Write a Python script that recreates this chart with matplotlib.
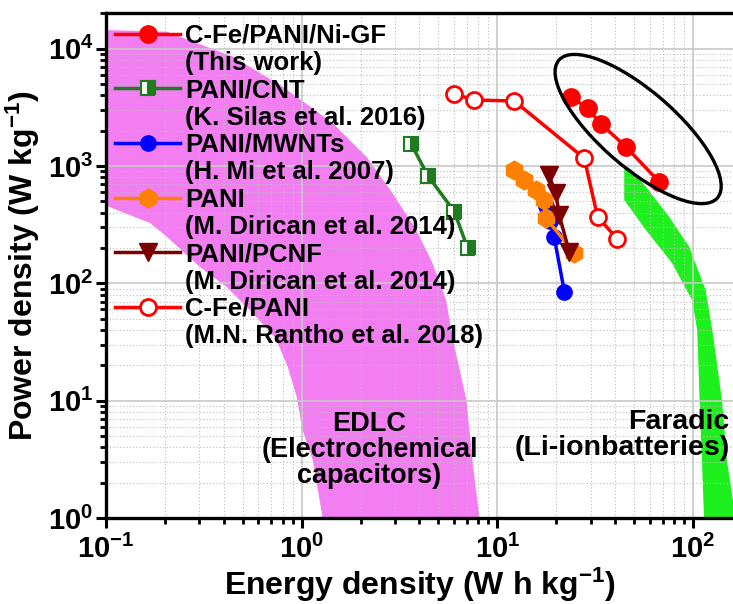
import matplotlib
matplotlib.use("Agg")
import matplotlib.pyplot as plt
from matplotlib.lines import Line2D
from matplotlib.patches import Ellipse
from matplotlib.transforms import ScaledTranslation
from matplotlib.ticker import LogLocator, FuncFormatter, NullFormatter
import numpy as np

plt.rcParams['font.family'] = ['Liberation Sans', 'DejaVu Sans']
plt.rcParams['font.weight'] = 'bold'
plt.rcParams['mathtext.fontset'] = 'custom'
plt.rcParams['mathtext.rm'] = 'Liberation Sans:bold'
plt.rcParams['mathtext.bf'] = 'Liberation Sans:bold'
plt.rcParams['mathtext.it'] = 'Liberation Sans:bold:italic'
plt.rcParams['mathtext.default'] = 'rm'

# --- Ragone data (energy Wh/kg, power W/kg) ---
this_work_E = [23.8, 28.9, 33.8, 45.4, 67.0]
this_work_P = [3900, 3100, 2290, 1460, 736]

cnt_E = [3.63, 4.41, 6.03, 7.05]
cnt_P = [1543, 829, 409, 199]

mwnt_E = [17.8, 18.6, 19.5, 22.0]
mwnt_P = [457, 340, 250, 85]

pani_E = [12.2, 13.7, 15.8, 17.4, 17.7, 24.7]
pani_P = [927, 761, 626, 514, 361, 182]

pcnf_E = [18.3, 19.9, 20.7, 23.3]
pcnf_P = [840, 587, 383, 186]

cfe_E = [6.03, 7.63, 12.2, 27.8, 32.5, 41.1]
cfe_P = [4120, 3660, 3590, 1167, 371, 238]

# EDLC band (outer edge top->bottom, inner edge bottom->top)
edlc_outer_E = [0.1, 0.204, 0.445, 0.80, 1.44, 2.14, 2.91, 3.85, 4.66, 5.47, 5.89, 6.95, 7.45, 8.1]
edlc_outer_P = [14450, 13990, 8570, 4750, 2330, 1203, 590, 285, 149, 72, 35, 10.1, 3.1, 1.0]
edlc_inner_E = [1.28, 1.14, 1.01, 0.943, 0.849, 0.736, 0.543, 0.414, 0.302, 0.205, 0.168, 0.107, 0.1]
edlc_inner_P = [1.0, 3.1, 5.6, 10.8, 19.4, 34.2, 59.3, 93, 138, 249, 327, 440, 466]

# Faradic band (left edge top->bottom, right edge bottom->top)
far_left_E = [44.5, 44.5, 57.4, 78.1, 98.9, 105, 108, 111, 113.8]
far_left_P = [1021, 514, 285, 149, 72, 40, 10.1, 3.1, 1.0]
far_right_E = [165, 149, 140.6, 126.5, 116, 95.4, 75.4, 57.4, 48.8]
far_right_P = [1.0, 3.1, 10.1, 36.3, 87.9, 206, 371, 667, 927]

fig = plt.figure(figsize=(7.33, 6.04), dpi=100)
ax = fig.add_axes([0.1446, 0.1424, 0.8554, 0.8361])
ax.set_xscale('log')
ax.set_yscale('log')
ax.set_xlim(0.1, 160)
ax.set_ylim(1, 2.02e4)

ax.fill(edlc_outer_E + edlc_inner_E, edlc_outer_P + edlc_inner_P,
        color='#F27EF2', lw=0, zorder=1)
ax.fill(far_left_E + far_right_E, far_left_P + far_right_P,
        color='#1EF01E', lw=0, zorder=1)

ax.grid(which='major', color='#C8C8C8', lw=1.2, ls='-')
ax.grid(which='minor', color='#BDBDBD', lw=0.8, ls=(0, (1, 2)))

blank = Line2D([], [], linestyle='none', marker='')
series = [
    (this_work_E, this_work_P, 'C-Fe/PANI/Ni-GF', '(This work)',
     dict(color='#FF0000', marker='o', ms=12.5, mfc='#FF0000', mec='#FF0000')),
    (cnt_E, cnt_P, 'PANI/CNT', '(K. Silas et al. 2016)',
     dict(color='#1E7B1E', marker='s', ms=10, fillstyle='right',
          mfc='#1E7B1E', mfcalt='white', mec='#1E7B1E', mew=1.5)),
    (mwnt_E, mwnt_P, 'PANI/MWNTs', '(H. Mi et al. 2007)',
     dict(color='#0000FF', marker='o', ms=11, mfc='#0000FF', mec='#0000FF')),
    (pani_E, pani_P, 'PANI', '(M. Dirican et al. 2014)',
     dict(color='#FF8000', marker='h', ms=13.5, mfc='#FF8000', mec='#FF8000')),
    (pcnf_E, pcnf_P, 'PANI/PCNF', '(M. Dirican et al. 2014)',
     dict(color='#7B0000', marker='v', ms=13.5, mfc='#7B0000', mec='#7B0000')),
    (cfe_E, cfe_P, 'C-Fe/PANI', '(M.N. Rantho et al. 2018)',
     dict(color='#FF0000', marker='o', ms=11.5, mfc='white', mec='#FF0000', mew=2)),
]

handles, labels = [], []
for E, P, name, ref, style in series:
    h, = ax.plot(E, P, lw=2.5, zorder=3, **style)
    handles += [h, blank]
    labels += [name, ref]

ax.legend(handles, labels, loc='upper left', bbox_to_anchor=(0.015, 0.979),
          frameon=False, fontsize=18.5, handlelength=2.5, handletextpad=0.2,
          labelspacing=0.13, borderpad=0, borderaxespad=0)

# highlight ellipse around this work
ell = Ellipse((0, 0), width=2.10, height=0.76, angle=-41, fill=False,
              ec='black', lw=2.4, zorder=4,
              transform=fig.dpi_scale_trans + ScaledTranslation(52.4, 2070, ax.transData))
ax.add_patch(ell)

ax.text(2.22, 3.8, 'EDLC\n(Electrochemical\ncapacitors)', ha='center', va='center',
        fontsize=19.5, fontweight='bold', linespacing=1.0, zorder=5)
ax.text(154, 5.1, 'Faradic\n(Li-ionbatteries)', ha='right', va='center',
        multialignment='right', fontsize=20.5, fontweight='bold', linespacing=1.0, zorder=5)

# axes styling
for side in ['left', 'bottom', 'top']:
    ax.spines[side].set_linewidth(2.4)
ax.spines['right'].set_visible(False)

fmt = FuncFormatter(lambda v, pos: r'$10^{%d}$' % int(round(np.log10(v))))
for axis in (ax.xaxis, ax.yaxis):
    axis.set_major_locator(LogLocator(base=10, numticks=10))
    axis.set_minor_locator(LogLocator(base=10, subs=np.arange(2, 10), numticks=20))
    axis.set_major_formatter(fmt)
    axis.set_minor_formatter(NullFormatter())

ax.tick_params(which='major', length=7, width=2.2, labelsize=21, direction='out',
               top=False, right=False)
ax.tick_params(which='minor', length=4.5, width=2, direction='out', top=False, right=False)
ax.tick_params(axis='x', which='major', pad=5)
ax.tick_params(axis='y', which='major', pad=2)

ax.set_xlabel(r'Energy density (W h kg$^{-1}$)', fontsize=23, fontweight='bold', labelpad=1)
ax.set_ylabel(r'Power density (W kg$^{-1}$)', fontsize=23, fontweight='bold', labelpad=4)

fig.savefig('out.png', dpi=100)
